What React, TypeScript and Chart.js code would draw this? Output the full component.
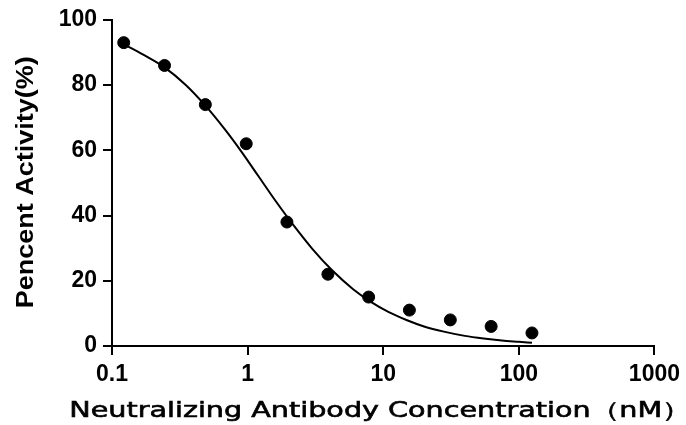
import { useEffect, useRef } from "react";
import { Chart, registerables } from "chart.js";

Chart.register(...registerables);

// Measured data points (2-fold dilution series, nM)
const concentrations = [0.122, 0.244, 0.488, 0.977, 1.95, 3.91, 7.81, 15.6, 31.25, 62.5, 125];
const activity = [93, 86, 74, 62, 38, 22, 15, 11, 8, 6, 4];

// Fitted curve
const fitX = [0.122, 0.17, 0.244, 0.35, 0.49, 0.68, 0.9, 1.2, 1.6, 2.2, 3.0, 4.2, 6.0, 8.0, 11, 15, 20, 28, 40, 55, 75, 100, 125];
const fitY = [92.5, 89.3, 85.4, 80.0, 73.6, 66.4, 59.6, 52.1, 44.6, 36.8, 29.8, 23.2, 17.4, 13.7, 10.4, 7.9, 6.0, 4.4, 3.1, 2.3, 1.7, 1.3, 1.0];

const xTicks = [0.1, 1, 10, 100, 1000];
const yTicks = [0, 20, 40, 60, 80, 100];

const xTitle = "Neutralizing Antibody Concentration（nM）";
const yTitle = "Pencent Activity(%)";

const axisTitles = {
  id: "axisTitles",
  afterDraw(chart: any) {
    const ctx = chart.ctx as CanvasRenderingContext2D;
    // x title
    ctx.save();
    ctx.fillStyle = "#000";
    ctx.strokeStyle = "#000";
    ctx.lineWidth = 0.6;
    ctx.font = '21px "DejaVu Sans"';
    ctx.textAlign = "left";
    ctx.textBaseline = "alphabetic";
    const m = ctx.measureText(xTitle);
    const inkW = m.actualBoundingBoxLeft + m.actualBoundingBoxRight;
    const sx = 601 / inkW;
    ctx.translate(72, 417);
    ctx.scale(sx, 1);
    ctx.fillText(xTitle, m.actualBoundingBoxLeft, 0);
    ctx.strokeText(xTitle, m.actualBoundingBoxLeft, 0);
    ctx.restore();

    // y title
    ctx.save();
    ctx.fillStyle = "#000";
    ctx.font = 'bold 23px "Liberation Sans"';
    ctx.textAlign = "left";
    ctx.textBaseline = "alphabetic";
    const my = ctx.measureText(yTitle);
    const inkH = my.actualBoundingBoxLeft + my.actualBoundingBoxRight;
    const sy = 250 / inkH;
    ctx.translate(33, 307);
    ctx.rotate(-Math.PI / 2);
    ctx.scale(sy, 1);
    ctx.fillText(yTitle, my.actualBoundingBoxLeft, 0);
    ctx.restore();
  },
};

export default function App() {
  const ref = useRef<HTMLCanvasElement | null>(null);

  useEffect(() => {
    if (!ref.current) return;
    const tickFont = { family: '"Liberation Sans", Arial, sans-serif', size: 23, weight: "bold" as const };
    const chart = new Chart(ref.current, {
      type: "scatter",
      data: {
        datasets: [
          {
            label: "fit",
            data: fitX.map((x, i) => ({ x, y: fitY[i] })),
            showLine: true,
            borderColor: "#000",
            borderWidth: 2,
            pointRadius: 0,
            cubicInterpolationMode: "monotone",
            fill: false,
          },
          {
            label: "data",
            data: concentrations.map((x, i) => ({ x, y: activity[i] })),
            showLine: false,
            backgroundColor: "#000",
            borderColor: "#000",
            borderWidth: 1,
            pointRadius: 6,
            pointStyle: "circle",
          },
        ],
      },
      options: {
        animation: false,
        responsive: false,
        maintainAspectRatio: false,
        layout: { padding: { top: 18, right: 26, left: 0, bottom: 0 } },
        plugins: { legend: { display: false }, tooltip: { enabled: false }, title: { display: false } },
        scales: {
          x: {
            type: "logarithmic",
            min: 0.1,
            max: 1000,
            afterBuildTicks: (scale: any) => {
              scale.ticks = xTicks.map((v) => ({ value: v, major: true }));
            },
            afterFit: (scale: any) => {
              scale.height = 79;
            },
            ticks: {
              color: "#000",
              font: tickFont,
              padding: 6,
              autoSkip: false,
              maxRotation: 0,
              callback: (v: any) => String(v),
            },
            grid: {
              display: true,
              drawOnChartArea: false,
              drawTicks: true,
              tickLength: 9,
              color: "#000",
              lineWidth: 2,
            },
            border: { display: true, color: "#000", width: 2 },
          },
          y: {
            type: "linear",
            min: 0,
            max: 100,
            afterBuildTicks: (scale: any) => {
              scale.ticks = yTicks.map((v) => ({ value: v }));
            },
            afterFit: (scale: any) => {
              scale.width = 112;
            },
            ticks: { color: "#000", font: tickFont, padding: 6 },
            grid: {
              display: true,
              drawOnChartArea: false,
              drawTicks: true,
              tickLength: 9,
              color: "#000",
              lineWidth: 2,
            },
            border: { display: true, color: "#000", width: 2 },
          },
        },
      },
      plugins: [axisTitles],
    });
    return () => chart.destroy();
  }, []);

  return (
    <div style={{ position: "fixed", left: 0, top: 0, width: 686, height: 425, background: "#fff" }}>
      <canvas ref={ref} width={686} height={425} style={{ width: 686, height: 425, display: "block" }} />
    </div>
  );
}
